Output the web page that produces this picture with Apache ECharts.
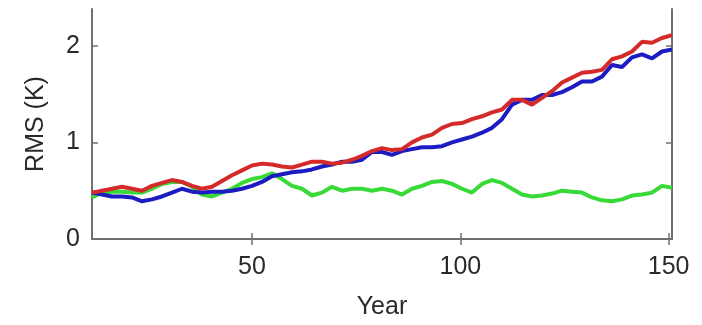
<!DOCTYPE html>
<html>
<head>
<meta charset="utf-8">
<script src="https://cdn.jsdelivr.net/npm/echarts@6/dist/echarts.min.js"></script>
<style>
  html, body { margin: 0; padding: 0; background: #fff; }
  #chart { width: 702px; height: 325px; }
</style>
</head>
<body>
<div id="chart"></div>
<script>
// sampled every 2.4 years
var startYear = 11.6;
var step = 2.4;

var redRms = [0.48, 0.50, 0.52, 0.54, 0.52, 0.50, 0.55, 0.58, 0.61, 0.59, 0.55, 0.52, 0.54, 0.60, 0.66, 0.71, 0.76, 0.78, 0.77, 0.75,
  0.74, 0.77, 0.80, 0.80, 0.78, 0.79, 0.82, 0.86, 0.91, 0.94, 0.92, 0.93, 1.00, 1.05, 1.08, 1.15, 1.19, 1.20, 1.24, 1.27,
  1.31, 1.34, 1.44, 1.44, 1.39, 1.46, 1.53, 1.62, 1.67, 1.72, 1.73, 1.75, 1.86, 1.89, 1.94, 2.04, 2.03, 2.08, 2.11];
var blueRms = [0.48, 0.46, 0.44, 0.44, 0.43, 0.39, 0.41, 0.44, 0.48, 0.52, 0.49, 0.48, 0.49, 0.49, 0.50, 0.52, 0.55, 0.59, 0.65, 0.67,
  0.69, 0.70, 0.72, 0.75, 0.77, 0.80, 0.80, 0.82, 0.90, 0.90, 0.87, 0.91, 0.93, 0.95, 0.95, 0.96, 1.00, 1.03, 1.06, 1.10,
  1.15, 1.24, 1.39, 1.44, 1.44, 1.49, 1.49, 1.52, 1.57, 1.63, 1.63, 1.68, 1.80, 1.78, 1.88, 1.91, 1.87, 1.94, 1.96];
var greenRms = [0.43, 0.48, 0.49, 0.49, 0.48, 0.48, 0.52, 0.57, 0.59, 0.59, 0.54, 0.46, 0.44, 0.48, 0.52, 0.58, 0.62, 0.64, 0.68, 0.62,
  0.55, 0.52, 0.45, 0.48, 0.54, 0.50, 0.52, 0.52, 0.50, 0.52, 0.50, 0.46, 0.52, 0.55, 0.59, 0.60, 0.57, 0.52, 0.48, 0.57,
  0.61, 0.58, 0.52, 0.46, 0.44, 0.45, 0.47, 0.50, 0.49, 0.48, 0.43, 0.40, 0.39, 0.41, 0.45, 0.46, 0.48, 0.55, 0.53];

var xTicks = [50, 100, 150];
var yTicks = [0, 1, 2];

function pairs(vals) {
  return vals.map(function (v, i) {
    return [+(startYear + i * step).toFixed(1), v];
  });
}

var chart = echarts.init(document.getElementById("chart"));
var frame = { show: true, lineStyle: { color: "#707070", width: 2 } };
var font = "Liberation Sans, Arial, sans-serif";

chart.setOption({
  animation: false,
  grid: { left: 92, right: 30, top: 9, bottom: 85 },
  xAxis: [
    {
      type: "value",
      position: "bottom",
      min: 11.6,
      max: 150.8,
      name: "Year",
      nameLocation: "middle",
      nameGap: 56,
      nameTextStyle: { fontSize: 25, color: "#2a2a2a", fontFamily: font },
      axisLine: frame,
      axisTick: { inside: true, length: 6, customValues: xTicks, lineStyle: { color: "#707070", width: 1.5 } },
      axisLabel: { customValues: xTicks, fontSize: 25, color: "#2a2a2a", margin: 16, fontFamily: font },
      splitLine: { show: false }
    },
    {
      type: "value",
      position: "top",
      min: 11.6,
      max: 150.8,
      axisLine: frame,
      axisTick: { inside: true, length: 6, customValues: xTicks, lineStyle: { color: "#707070", width: 1.5 } },
      axisLabel: { show: false },
      splitLine: { show: false }
    }
  ],
  yAxis: [
    {
      type: "value",
      position: "left",
      min: 0,
      max: 2.38,
      name: "RMS (K)",
      nameLocation: "middle",
      nameGap: 43,
      nameTextStyle: { fontSize: 25, color: "#2a2a2a", fontFamily: font },
      axisLine: frame,
      axisTick: { inside: true, length: 6, customValues: yTicks, lineStyle: { color: "#707070", width: 1.5 } },
      axisLabel: { customValues: yTicks, fontSize: 25, color: "#2a2a2a", margin: 12, fontFamily: font },
      splitLine: { show: false }
    },
    {
      type: "value",
      position: "right",
      min: 0,
      max: 2.38,
      axisLine: frame,
      axisTick: { inside: true, length: 6, customValues: yTicks, lineStyle: { color: "#707070", width: 1.5 } },
      axisLabel: { show: false },
      splitLine: { show: false }
    }
  ],
  series: [
    {
      type: "line",
      data: pairs(greenRms),
      showSymbol: false,
      lineStyle: { color: "#38da38", width: 4 },
      z: 2
    },
    {
      type: "line",
      data: pairs(blueRms),
      showSymbol: false,
      lineStyle: { color: "#1c1cc2", width: 4 },
      z: 3
    },
    {
      type: "line",
      data: pairs(redRms),
      showSymbol: false,
      lineStyle: { color: "#d42a2a", width: 4 },
      z: 4
    }
  ]
});
</script>
</body>
</html>
